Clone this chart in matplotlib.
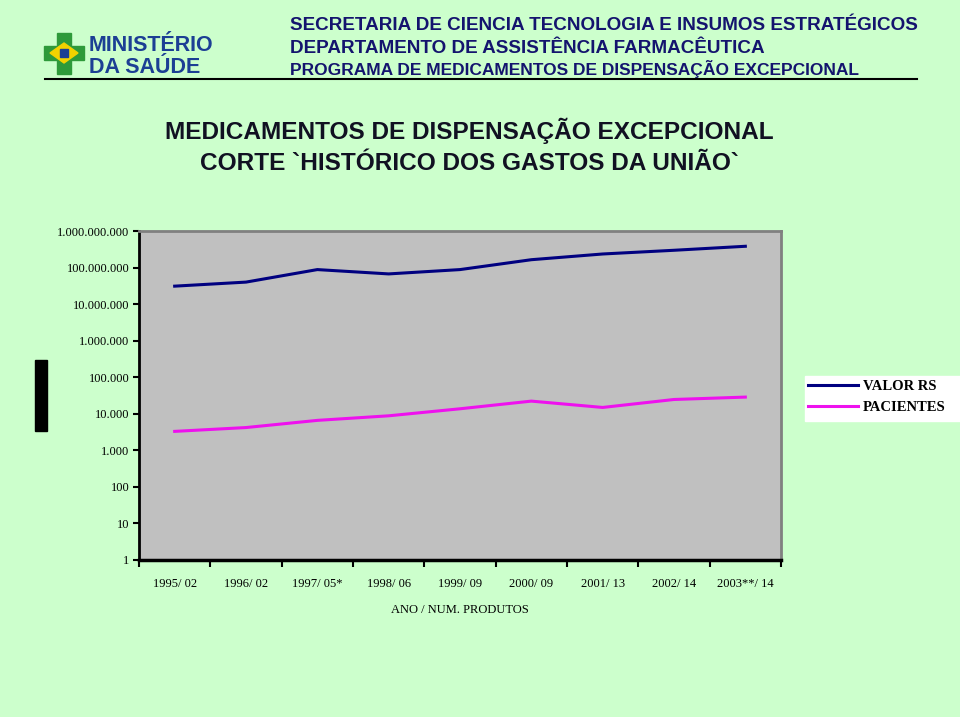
import matplotlib
matplotlib.use("Agg")
import matplotlib.pyplot as plt
from matplotlib.patches import Rectangle, Polygon
from matplotlib.lines import Line2D

# dados (escala log)
anos = ["1995/ 02", "1996/ 02", "1997/ 05*", "1998/ 06", "1999/ 09",
        "2000/ 09", "2001/ 13", "2002/ 14", "2003**/ 14"]
valor_rs = [31e6, 40e6, 88e6, 67e6, 88e6, 164e6, 235e6, 297e6, 382e6]
pacientes = [3300, 4200, 6600, 8800, 13700, 22200, 14900, 24600, 28600]
y_ticks = [1, 10, 100, 1e3, 1e4, 1e5, 1e6, 1e7, 1e8, 1e9]
y_labels = ["1", "10", "100", "1.000", "10.000", "100.000", "1.000.000",
            "10.000.000", "100.000.000", "1.000.000.000"]
serie_nomes = ["VALOR RS", "PACIENTES"]

BG = "#CCFFCC"
AZUL = "#000080"
MAGENTA = "#EE11EE"
W, H = 960, 717


def fx(px):
    return px / W


def fy(py):
    return 1 - py / H


fig = plt.figure(figsize=(9.6, 7.17), dpi=100, facecolor=BG)

# cabecalho
head = "#14146e"
fig.text(fx(290), fy(30), "SECRETARIA DE CIENCIA TECNOLOGIA E INSUMOS ESTRATÉGICOS",
         fontsize=13.6, fontweight="bold", color=head, family="Liberation Sans", va="baseline")
fig.text(fx(290), fy(53), "DEPARTAMENTO DE ASSISTÊNCIA FARMACÊUTICA",
         fontsize=13.6, fontweight="bold", color=head, family="Liberation Sans", va="baseline")
fig.text(fx(290), fy(75), "PROGRAMA DE MEDICAMENTOS DE DISPENSAÇÃO EXCEPCIONAL",
         fontsize=12.5, fontweight="bold", color=head, family="Liberation Sans", va="baseline")
fig.add_artist(Line2D([fx(45), fx(917)], [fy(79), fy(79)], color="black", lw=1.5))

# logo
verde = "#2e9a3a"
fig.add_artist(Rectangle((fx(57), fy(74)), fx(14), 41 / H, color=verde))
fig.add_artist(Rectangle((fx(44), fy(60)), fx(40), 14 / H, color=verde))
fig.add_artist(Polygon([(fx(50), fy(53)), (fx(64), fy(43)), (fx(78), fy(53)), (fx(64), fy(63))],
                       closed=True, color="#f2d200"))
fig.add_artist(Rectangle((fx(60), fy(57)), fx(8), 8 / H, color="#1c3f94"))
fig.text(fx(89), fy(51), "MINISTÉRIO", fontsize=15.5, fontweight="bold", color="#1c3f94",
         family="Liberation Sans", va="baseline")
fig.text(fx(89), fy(73), "DA SAÚDE", fontsize=15.5, fontweight="bold", color="#1c3f94",
         family="Liberation Sans", va="baseline")

# titulo
fig.text(fx(469), fy(131), "MEDICAMENTOS DE DISPENSAÇÃO EXCEPCIONAL",
         fontsize=17.6, fontweight="bold", color="#111122", family="Liberation Sans",
         ha="center", va="center")
fig.text(fx(469), fy(164), "CORTE `HISTÓRICO DOS GASTOS DA UNIÃO`",
         fontsize=17.6, fontweight="bold", color="#111122", family="Liberation Sans",
         ha="center", va="center")

# barra preta a esquerda
fig.add_artist(Rectangle((fx(35), fy(431)), fx(12), 71 / H, color="black"))

# grafico
ax = fig.add_axes([fx(139), fy(560), fx(781 - 139), (560 - 231) / H])
ax.set_facecolor("#C0C0C0")
x = list(range(len(anos)))
ax.plot(x, valor_rs, color=AZUL, lw=2.2, label=serie_nomes[0])
ax.plot(x, pacientes, color=MAGENTA, lw=2.2, label=serie_nomes[1])
ax.set_yscale("log")
ax.set_ylim(1, 1e9)
ax.set_xlim(-0.5, len(anos) - 0.5)

ax.set_yticks(y_ticks)
ax.set_yticklabels(y_labels, family="Liberation Serif", fontsize=9)
ax.yaxis.set_minor_locator(matplotlib.ticker.NullLocator())
ax.tick_params(axis="y", direction="out", length=4, width=1.5, pad=3)

ax.set_xticks([i - 0.5 for i in range(len(anos) + 1)])
ax.set_xticklabels([])
ax.set_xticks(x, minor=True)
ax.set_xticklabels(anos, minor=True, family="Liberation Serif", fontsize=9)
ax.tick_params(axis="x", which="major", direction="out", length=5, width=1.5)
ax.tick_params(axis="x", which="minor", length=0, pad=13)
ax.set_xlabel("ANO / NUM. PRODUTOS", family="Liberation Serif", fontsize=9, labelpad=10)

ax.spines["left"].set_linewidth(2)
ax.spines["bottom"].set_linewidth(2.5)
ax.spines["top"].set_color("#808080")
ax.spines["top"].set_linewidth(2)
ax.spines["right"].set_color("#808080")
ax.spines["right"].set_linewidth(2)

# legenda
fig.add_artist(Rectangle((fx(805), fy(421)), fx(960 - 805), 45 / H, color="white", zorder=0))
leg = ax.legend(loc="upper left", bbox_to_anchor=(fx(808), fy(380)), bbox_transform=fig.transFigure,
                frameon=False, handlelength=3.4, handletextpad=0.35, labelspacing=0.55,
                borderaxespad=0, borderpad=0,
                prop={"family": "Liberation Serif", "weight": "bold", "size": 10.5})

fig.savefig("out.png", dpi=100, facecolor=BG)
